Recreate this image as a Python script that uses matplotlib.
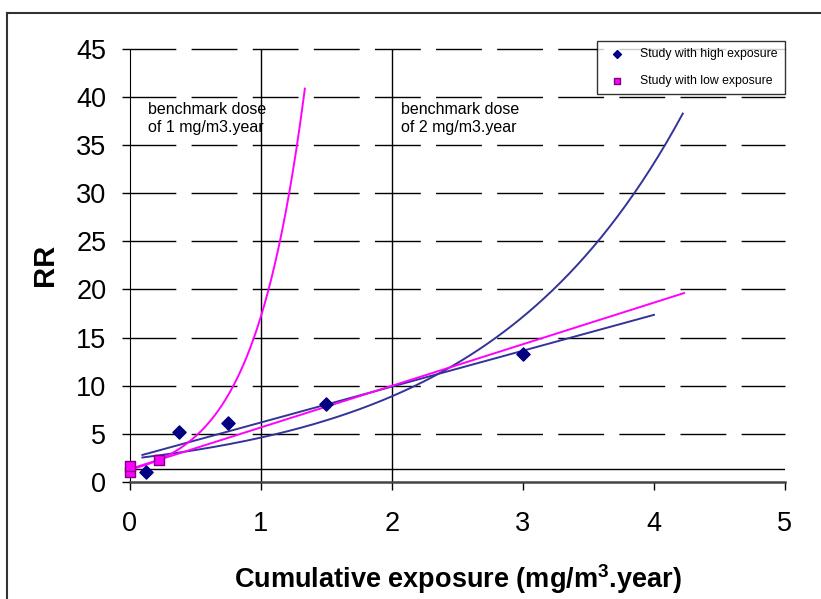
import matplotlib.pyplot as plt
import numpy as np

plt.rcParams['font.family'] = ['Liberation Sans', 'DejaVu Sans']

# data
high_x = [0.125, 0.375, 0.75, 1.5, 3.0]
high_rr = [1.0, 5.2, 6.1, 8.1, 13.3]
low_x = [0.0, 0.0, 0.22]
low_rr = [1.0, 1.7, 2.3]

x_ticks = [0, 1, 2, 3, 4, 5]
y_ticks = [0, 5, 10, 15, 20, 25, 30, 35, 40, 45]

navy = '#000080'
navy_line = '#333399'
magenta = '#FF00FF'


def lin_fit(x, y):
    return np.polyfit(x, y, 1)


def exp_fit(x, y):
    b, lna = np.polyfit(x, np.log(y), 1)
    return np.exp(lna), b


fig = plt.figure(figsize=(8.21, 5.99), dpi=100)
ax = fig.add_axes([0.1583, 0.1953, 0.7978, 0.7237])

# outer frame of the chart area
fig.add_artist(plt.Line2D([0.0085, 1.0], [0.978, 0.978], color='#333333', lw=1.5))
fig.add_artist(plt.Line2D([0.0085, 0.0085], [0.0, 0.978], color='#333333', lw=1.5))

# gridlines
for yv in y_ticks[1:]:
    ax.axhline(yv, color='black', lw=1.0, linestyle=(0, (33, 11)), zorder=1, clip_on=False)

# benchmark lines and RR=1 line
ax.plot([1, 1], [0, 45], color='black', lw=1.0, zorder=2)
ax.plot([2, 2], [0, 45], color='black', lw=1.0, zorder=2)
ax.axhline(1.3, color='black', lw=1.0, zorder=2)

# trendlines (fitted to the points, extended forward as in the sheet)
m, c = lin_fit(high_x, high_rr)
xs = np.linspace(min(high_x) - 0.03, 4.0, 50)
ax.plot(xs, m * xs + c, color=navy_line, lw=1.4, zorder=3)

a, b = exp_fit(high_x, high_rr)
xs = np.linspace(min(high_x) - 0.03, 4.22, 200)
ax.plot(xs, a * np.exp(b * xs), color=navy_line, lw=1.4, zorder=3)

m, c = lin_fit(low_x, low_rr)
xs = np.linspace(0, 4.23, 50)
ax.plot(xs, m * xs + c, color=magenta, lw=1.4, zorder=3)

a, b = exp_fit(low_x, low_rr)
xs = np.linspace(0, 1.335, 200)
ax.plot(xs, a * np.exp(b * xs), color=magenta, lw=1.4, zorder=3)

# points
ax.scatter(high_x, high_rr, marker='D', s=45, color=navy, zorder=5, clip_on=False,
           label='Study with high exposure')
ax.scatter(low_x, low_rr, marker='s', s=55, facecolor=magenta, edgecolor='#800080',
           lw=1.0, zorder=5, clip_on=False, label='Study with low exposure')

ax.text(0.137, 39.5, 'benchmark dose\nof 1 mg/m3.year', fontsize=11.5, va='top', linespacing=1.3)
ax.text(2.07, 39.5, 'benchmark dose\nof 2 mg/m3.year', fontsize=11.5, va='top', linespacing=1.3)

ax.set_xlim(0, 5)
ax.set_ylim(0, 45)
ax.set_xticks(x_ticks)
ax.set_yticks(y_ticks)
ax.tick_params(labelsize=19.5, direction='out', length=6, width=1)
ax.tick_params(axis='x', pad=15)
ax.tick_params(axis='y', pad=11)
for s in ['top', 'right']:
    ax.spines[s].set_visible(False)
ax.spines['bottom'].set_linewidth(1.8)
ax.spines['bottom'].set_color('#444444')

ax.set_xlabel('Cumulative exposure (mg/m$^\\mathregular{3}$.year)', fontsize=19.5,
              fontweight='bold', labelpad=18)
ax.set_ylabel('RR', fontsize=21, fontweight='bold', labelpad=12)

leg = ax.legend(loc='upper right', bbox_to_anchor=(785 / 821, 1 - 41 / 599),
                bbox_transform=fig.transFigure, fontsize=8.8, frameon=True,
                fancybox=False, edgecolor='black', handletextpad=0.9, labelspacing=1.2,
                borderpad=0.6, borderaxespad=0, scatterpoints=1, markerscale=0.6)
leg.get_frame().set_linewidth(1.0)

fig.savefig('out.png', dpi=100)
